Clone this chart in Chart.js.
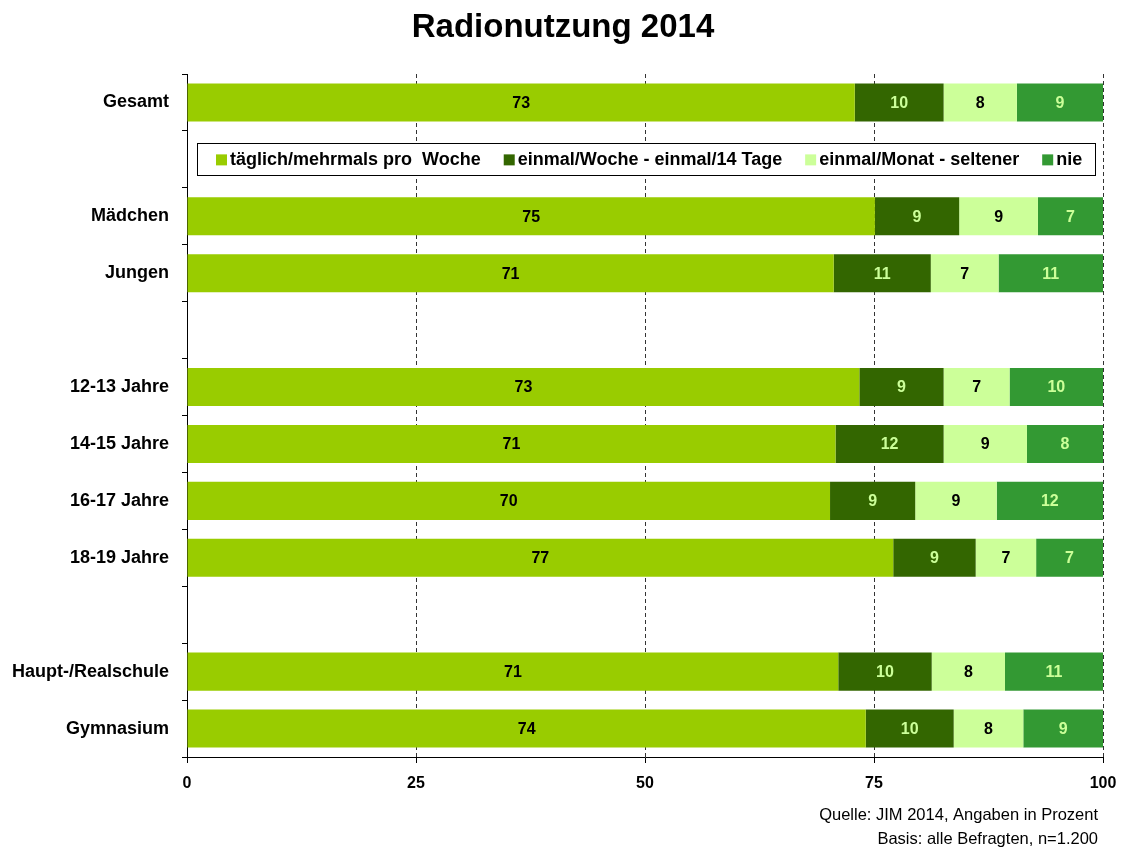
<!DOCTYPE html>
<html>
<head>
<meta charset="utf-8">
<title>Radionutzung 2014</title>
<script src="https://cdn.jsdelivr.net/npm/chart.js@4"></script>
<style>
    body { margin: 0; background: #fff; }
    canvas { display: block; }
</style>
</head>
<body>
<canvas id="chart" width="1124" height="849"></canvas>
<script>
// Kategorien (leere Einträge = Abstandszeilen)
const categories = ['Gesamt', '', 'Mädchen', 'Jungen', '', '12-13 Jahre', '14-15 Jahre', '16-17 Jahre', '18-19 Jahre', '', 'Haupt-/Realschule', 'Gymnasium'];

const seriesNames = ['täglich/mehrmals pro  Woche', 'einmal/Woche - einmal/14 Tage', 'einmal/Monat - seltener', 'nie'];

// Werte in Prozent
const taeglich     = [72.9, null, 75.1, 70.6, null, 73.4, 70.8, 70.2, 77.1, null, 71.1, 74.1];
const woechentlich = [9.7,  null, 9.2,  10.6, null, 9.2,  11.8, 9.3,  9.0,  null, 10.2, 9.6];
const monatlich    = [8.0,  null, 8.6,  7.4,  null, 7.2,  9.1,  8.9,  6.6,  null, 8.0,  7.6];
const nie          = [9.4,  null, 7.1,  11.4, null, 10.2, 8.3,  11.6, 7.3,  null, 10.7, 8.7];

const xTicks = [0, 25, 50, 75, 100];

const colors = ['#99cc00', '#336600', '#ccff99', '#339933'];
const labelColors = ['#000000', '#ccff99', '#000000', '#ccff99'];

const FONT = '"Liberation Sans", Arial, sans-serif';

// Gestrichelte Hilfslinien hinter den Balken
const dashedGrid = {
    id: 'dashedGrid',
    beforeDatasetsDraw(chart) {
        const { ctx, chartArea, scales } = chart;
        ctx.save();
        ctx.strokeStyle = '#333333';
        ctx.lineWidth = 1;
        ctx.setLineDash([4, 3]);
        xTicks.slice(1).forEach(v => {
            const x = Math.round(scales.x.getPixelForValue(v)) + 0.5;
            ctx.beginPath();
            ctx.moveTo(x, chartArea.top);
            ctx.lineTo(x, chartArea.bottom);
            ctx.stroke();
        });
        ctx.restore();
    }
};

// Werte in den Balken, Legende, Titel und Quelle
const annotations = {
    id: 'annotations',
    afterDatasetsDraw(chart) {
        const { ctx, chartArea, scales } = chart;
        ctx.save();

        // Datenbeschriftung
        ctx.font = 'bold 16px ' + FONT;
        ctx.textAlign = 'center';
        ctx.textBaseline = 'middle';
        chart.data.datasets.forEach((ds, i) => {
            const meta = chart.getDatasetMeta(i);
            meta.data.forEach((bar, j) => {
                const v = ds.data[j];
                if (v === null) return;
                ctx.fillStyle = labelColors[i];
                ctx.fillText(Math.round(v), (bar.x + bar.base) / 2, bar.y + 1);
            });
        });

        // Legende in der zweiten (leeren) Zeile
        const cy = scales.y.getPixelForValue(1);
        const boxLeft = chartArea.left + 10;
        const boxRight = chartArea.right - 8;
        ctx.fillStyle = '#ffffff';
        ctx.fillRect(boxLeft, cy - 16, boxRight - boxLeft, 32);
        ctx.strokeStyle = '#000000';
        ctx.lineWidth = 1;
        ctx.setLineDash([]);
        ctx.strokeRect(Math.round(boxLeft) + 0.5, Math.round(cy - 16) + 0.5, Math.round(boxRight - boxLeft), 32);

        ctx.font = 'bold 18px ' + FONT;
        ctx.textAlign = 'left';
        let x = boxLeft + 19;
        seriesNames.forEach((name, i) => {
            ctx.fillStyle = colors[i];
            ctx.fillRect(x, cy - 5, 11, 11);
            ctx.fillStyle = '#000000';
            ctx.fillText(name, x + 14, cy + 1);
            x += 14 + ctx.measureText(name).width + 23;
        });

        ctx.restore();
    },
    afterDraw(chart) {
        const { ctx, width } = chart;
        ctx.save();
        ctx.fillStyle = '#000000';
        ctx.textAlign = 'center';
        ctx.textBaseline = 'middle';
        ctx.font = 'bold 33px ' + FONT;
        ctx.fillText('Radionutzung 2014', width / 2 + 1, 28);

        ctx.textAlign = 'right';
        ctx.font = '16.5px ' + FONT;
        ctx.fillText('Quelle: JIM 2014, Angaben in Prozent', width - 26, 815);
        ctx.fillText('Basis: alle Befragten, n=1.200', width - 26, 839);
        ctx.restore();
    }
};

const datasets = [taeglich, woechentlich, monatlich, nie].map((values, i) => ({
    label: seriesNames[i],
    data: values,
    backgroundColor: colors[i],
    borderWidth: 0,
    barPercentage: 0.67,
    categoryPercentage: 1
}));

const chart = new Chart(document.getElementById('chart'), {
    type: 'bar',
    data: { labels: categories, datasets: datasets },
    options: {
        indexAxis: 'y',
        responsive: false,
        animation: false,
        layout: { padding: { top: 74, right: 21, bottom: 0, left: 0 } },
        plugins: {
            legend: { display: false },
            title: { display: false },
            tooltip: { enabled: false }
        },
        scales: {
            x: {
                stacked: true,
                min: 0,
                max: 100,
                afterBuildTicks: scale => { scale.ticks = xTicks.map(v => ({ value: v })); },
                afterFit: scale => {
                    scale.height = 92;
                    // kein zusätzlicher Rand für die Randbeschriftungen
                    scale.paddingLeft = 0;
                    scale.paddingRight = 0;
                },
                grid: { drawOnChartArea: false, tickLength: 6, color: '#000000' },
                border: { color: '#000000', width: 1 },
                ticks: {
                    color: '#000000',
                    padding: 11,
                    font: { family: FONT, size: 16, weight: 'bold' }
                }
            },
            y: {
                stacked: true,
                afterFit: scale => { scale.width = 187; },
                grid: { offset: true, drawOnChartArea: false, tickLength: 5, color: '#000000' },
                border: { color: '#000000', width: 1 },
                ticks: {
                    color: '#000000',
                    padding: 13,
                    font: { family: FONT, size: 18, weight: 'bold' }
                }
            }
        }
    },
    plugins: [dashedGrid, annotations]
});
</script>
</body>
</html>
